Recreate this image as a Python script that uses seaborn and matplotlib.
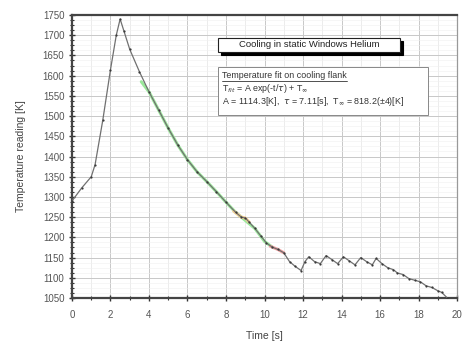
import numpy as np
import pandas as pd
import matplotlib
matplotlib.use("Agg")
import matplotlib.pyplot as plt
import matplotlib.ticker as mticker
from matplotlib.patches import Rectangle
from matplotlib.lines import Line2D
import seaborn as sns

# ── DATA ──────────────────────────────────────────────────────────────────────
time_s = [0.0, 0.5, 1.0, 1.2, 1.6, 2.0, 2.3, 2.5, 2.7, 3.0, 3.5, 4.0, 4.5, 5.0,
          5.5, 6.0, 6.5, 7.0, 7.5, 8.0, 8.5, 8.8, 9.0, 9.2, 9.5, 9.8, 10.1,
          10.4, 10.7, 11.0, 11.3, 11.6, 11.9, 12.1, 12.3, 12.6, 12.9, 13.2,
          13.5, 13.8, 14.1, 14.4, 14.7, 15.0, 15.3, 15.6, 15.8, 16.1, 16.4,
          16.7, 16.9, 17.2, 17.5, 17.8, 18.1, 18.4, 18.7, 19.0, 19.2, 19.5]
temp_k = [1290, 1322, 1350, 1380, 1490, 1615, 1700, 1740, 1710, 1665, 1610,
          1560, 1515, 1470, 1428, 1392, 1362, 1338, 1313, 1287, 1262, 1250,
          1248, 1238, 1222, 1204, 1186, 1176, 1170, 1162, 1140, 1128, 1118,
          1140, 1152, 1140, 1135, 1155, 1145, 1135, 1152, 1142, 1132, 1150,
          1140, 1132, 1148, 1135, 1125, 1120, 1112, 1108, 1098, 1094, 1090,
          1080, 1076, 1068, 1064, 1050]

fit_t = [3.6, 4.0, 4.5, 5.0, 5.5, 6.0, 6.5, 7.0, 7.5, 8.0, 8.5, 9.0, 9.5, 10.0, 10.4]
fit_T = [1585, 1560, 1515, 1470, 1428, 1392, 1362, 1338, 1313, 1287, 1262,
         1242, 1222, 1190, 1176]

orange_t = [8.4, 8.8, 9.0, 9.2]
orange_T = [1265, 1250, 1248, 1238]
red_t = [10.3, 10.7, 11.0]
red_T = [1178, 1170, 1162]

df = pd.DataFrame({"t": time_s, "T": temp_k})

sns.set_theme(style="whitegrid")
plt.rcParams["font.family"] = ["Liberation Sans", "DejaVu Sans"]

fig = plt.figure(figsize=(4.66, 3.45), dpi=100)
ax = fig.add_axes([0.1545, 0.1362, 0.8262, 0.8203])
ax.set_facecolor("white")

# highlighted fit segments under the data
ax.plot(fit_t, fit_T, color="#9be89b", lw=2.2, zorder=2, solid_capstyle="round")
ax.plot(orange_t, orange_T, color="#f5cf94", lw=2.2, zorder=2)
ax.plot(red_t, red_T, color="#f0a0a0", lw=2.2, zorder=2)

sns.lineplot(data=df, x="t", y="T", ax=ax, color="#707070", lw=0.9,
             marker="o", markersize=1.6, markeredgewidth=0,
             markerfacecolor="#3a3a3a", zorder=3)

ax.set_xlim(0, 20)
ax.set_ylim(1050, 1750)
ax.xaxis.set_major_locator(mticker.MultipleLocator(2))
ax.xaxis.set_minor_locator(mticker.MultipleLocator(1))
ax.yaxis.set_major_locator(mticker.MultipleLocator(50))
ax.yaxis.set_minor_locator(mticker.MultipleLocator(12.5))

ax.grid(which="major", color="#c8c8c8", lw=0.7)
ax.grid(which="minor", axis="x", color="#e4e4e4", lw=0.5)
ax.grid(which="minor", axis="y", color="#f0f0f0", lw=0.4)

ax.tick_params(which="major", direction="inout", length=5, width=1.0,
               labelsize=7, colors="#333333", labelcolor="#555555",
               bottom=True, left=True)
ax.tick_params(axis="x", which="major", pad=6)
ax.tick_params(axis="y", which="major", pad=3)
ax.tick_params(which="minor", direction="inout", length=3, width=0.8,
               colors="#333333", bottom=True, left=True)

for side in ["top", "bottom", "left"]:
    ax.spines[side].set_color("#444444")
    ax.spines[side].set_linewidth(1.6)
ax.spines["right"].set_color("#999999")
ax.spines["right"].set_linewidth(0.9)

ax.set_xlabel("Time [s]", fontsize=7.5, color="#444444", labelpad=8)
ax.set_ylabel("Temperature reading [K]", fontsize=7.5, color="#444444", labelpad=12)

# title box with shadow
fig.add_artist(Rectangle((0.474, 0.840), 0.390, 0.041, transform=fig.transFigure,
                         fc="black", ec="black", lw=0.8, zorder=4))
fig.add_artist(Rectangle((0.468, 0.849), 0.390, 0.041, transform=fig.transFigure,
                         fc="white", ec="#222222", lw=0.8, zorder=5))
fig.text(0.663, 0.870, "Cooling in static Windows Helium", ha="center",
         va="center", fontsize=6.8, color="#222222", zorder=6)

# fit info box
fig.add_artist(Rectangle((0.468, 0.667), 0.45, 0.139, transform=fig.transFigure,
                         fc="white", ec="#888888", lw=0.7, zorder=5))
lines = ["Temperature fit on cooling flank",
         r"T$_{fit}$ = A exp(-t/$\tau$) + T$_\infty$",
         r"A = 1114.3[K],  $\tau$ = 7.11[s],  T$_\infty$ = 818.2(±4)[K]"]
txts = []
for i, s in enumerate(lines):
    txts.append(fig.text(0.476, 0.782 - i * 0.038, s, ha="left", va="center",
                         fontsize=6.4, color="#333333", zorder=6))

fig.canvas.draw()
bb = txts[0].get_window_extent().transformed(fig.transFigure.inverted())
fig.add_artist(Line2D([bb.x0, bb.x1], [bb.y0 - 0.003, bb.y0 - 0.003],
                      transform=fig.transFigure, color="#333333", lw=0.6, zorder=6))

fig.savefig("out.png", dpi=100)
